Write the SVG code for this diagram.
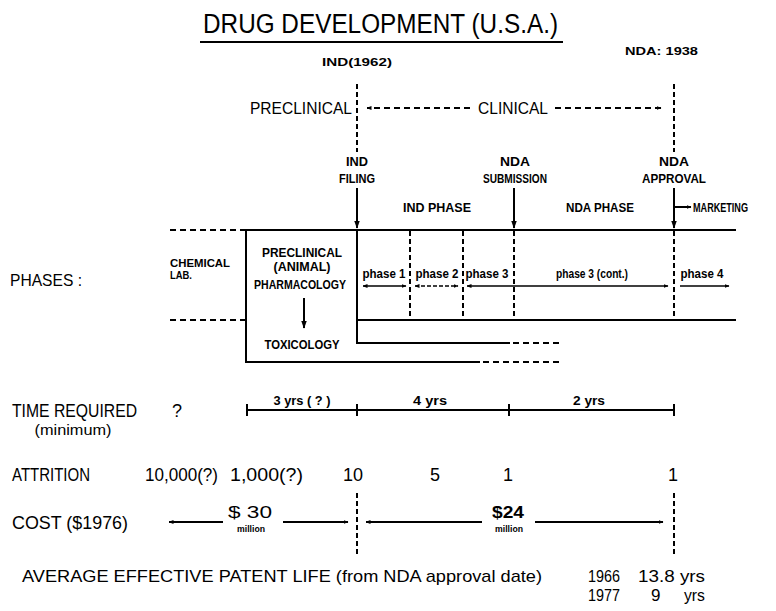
<svg xmlns="http://www.w3.org/2000/svg" width="776" height="611" viewBox="0 0 776 611">
<style>
.lt{font-family:"Liberation Sans",Arial,sans-serif;fill:#000}
.bd{font-family:"Liberation Sans",Arial,sans-serif;font-weight:bold;fill:#000}
.ln{stroke:#000;stroke-width:2;fill:none}
.tn{stroke:#000;stroke-width:1.5;fill:none}
.ds{stroke:#000;stroke-width:2;fill:none;stroke-dasharray:6 4}
.dv{stroke:#000;stroke-width:2;fill:none;stroke-dasharray:5 3}
</style>
<defs>
<marker id="ah" viewBox="0 0 10 10" refX="9" refY="5" markerWidth="5" markerHeight="5" orient="auto-start-reverse" markerUnits="userSpaceOnUse">
<path d="M0,1 L10,5 L0,9 Z" fill="#000"/>
</marker>
<marker id="ahs" viewBox="0 0 10 10" refX="9" refY="5" markerWidth="8" markerHeight="8" orient="auto-start-reverse" markerUnits="userSpaceOnUse">
<path d="M0,1.5 L10,5 L0,8.5 Z" fill="#000"/>
</marker>
</defs>
<rect width="776" height="611" fill="#fff"/>

<g id="title">
<text class="lt" x="203" y="33" font-size="27" textLength="355" lengthAdjust="spacingAndGlyphs">DRUG DEVELOPMENT (U.S.A.)</text>
<line class="ln" x1="200" y1="42" x2="563" y2="42"/>
</g>

<g id="ind-1962">
<text class="bd" x="357" y="66" font-size="11" text-anchor="middle" textLength="70" lengthAdjust="spacingAndGlyphs">IND(1962)</text>
</g>
<g id="nda-1938">
<text class="bd" x="625" y="55" font-size="11" textLength="73" lengthAdjust="spacingAndGlyphs">NDA: 1938</text>
</g>

<g id="preclinical-label">
<text class="lt" x="250" y="114" font-size="16" textLength="102" lengthAdjust="spacingAndGlyphs">PRECLINICAL</text>
</g>
<g id="clinical-label">
<text class="lt" x="478" y="114" font-size="16" textLength="70" lengthAdjust="spacingAndGlyphs">CLINICAL</text>
</g>

<g id="ind-filing">
<text class="bd" x="357" y="166" font-size="12" text-anchor="middle" textLength="22" lengthAdjust="spacingAndGlyphs">IND</text>
<text class="bd" x="357" y="183" font-size="12" text-anchor="middle" textLength="36" lengthAdjust="spacingAndGlyphs">FILING</text>
</g>
<g id="nda-submission">
<text class="bd" x="515" y="166" font-size="12" text-anchor="middle" textLength="30" lengthAdjust="spacingAndGlyphs">NDA</text>
<text class="bd" x="515" y="183" font-size="12" text-anchor="middle" textLength="64" lengthAdjust="spacingAndGlyphs">SUBMISSION</text>
</g>
<g id="nda-approval">
<text class="bd" x="674" y="166" font-size="12" text-anchor="middle" textLength="30" lengthAdjust="spacingAndGlyphs">NDA</text>
<text class="bd" x="674" y="183" font-size="12" text-anchor="middle" textLength="64" lengthAdjust="spacingAndGlyphs">APPROVAL</text>
</g>
<g id="ind-phase">
<text class="bd" x="437" y="212" font-size="12" text-anchor="middle" textLength="68" lengthAdjust="spacingAndGlyphs">IND PHASE</text>
</g>
<g id="nda-phase">
<text class="bd" x="600" y="212" font-size="12" text-anchor="middle" textLength="68" lengthAdjust="spacingAndGlyphs">NDA  PHASE</text>
</g>
<g id="marketing">
<text class="bd" x="693" y="212" font-size="13" textLength="55" lengthAdjust="spacingAndGlyphs">MARKETING</text>
</g>

<g id="phases-label">
<text class="lt" x="10" y="286" font-size="17" textLength="72" lengthAdjust="spacingAndGlyphs">PHASES :</text>
</g>
<g id="chemical-lab">
<text class="bd" x="170" y="267" font-size="11" textLength="60" lengthAdjust="spacingAndGlyphs">CHEMICAL</text>
<text class="bd" x="170" y="279" font-size="11" textLength="22" lengthAdjust="spacingAndGlyphs">LAB.</text>
</g>
<g id="preclinical-pharmacology">
<text class="bd" x="302" y="257" font-size="12" text-anchor="middle" textLength="80" lengthAdjust="spacingAndGlyphs">PRECLINICAL</text>
<text class="bd" x="302" y="271" font-size="12" text-anchor="middle" textLength="57" lengthAdjust="spacingAndGlyphs">(ANIMAL)</text>
<text class="bd" x="300" y="289" font-size="12" text-anchor="middle" textLength="92" lengthAdjust="spacingAndGlyphs">PHARMACOLOGY</text>
</g>
<g id="toxicology">
<text class="bd" x="302" y="349" font-size="12" text-anchor="middle" textLength="75" lengthAdjust="spacingAndGlyphs">TOXICOLOGY</text>
</g>
<g id="phase-1"><text class="bd" x="384" y="278" font-size="12" text-anchor="middle" textLength="43" lengthAdjust="spacingAndGlyphs">phase 1</text></g>
<g id="phase-2"><text class="bd" x="437" y="278" font-size="12" text-anchor="middle" textLength="43" lengthAdjust="spacingAndGlyphs">phase 2</text></g>
<g id="phase-3"><text class="bd" x="487" y="278" font-size="12" text-anchor="middle" textLength="43" lengthAdjust="spacingAndGlyphs">phase 3</text></g>
<g id="phase-3-cont"><text class="bd" x="592" y="278" font-size="12" text-anchor="middle" textLength="72" lengthAdjust="spacingAndGlyphs">phase 3 (cont.)</text></g>
<g id="phase-4"><text class="bd" x="702" y="278" font-size="12" text-anchor="middle" textLength="43" lengthAdjust="spacingAndGlyphs">phase 4</text></g>

<g id="time-required">
<text class="lt" x="12" y="417" font-size="18" textLength="125" lengthAdjust="spacingAndGlyphs">TIME REQUIRED</text>
<text class="lt" x="73" y="435" font-size="14" text-anchor="middle" textLength="77" lengthAdjust="spacingAndGlyphs">(minimum)</text>
<text class="lt" x="177" y="417" font-size="18" text-anchor="middle">?</text>
<text class="bd" x="302" y="405" font-size="12" text-anchor="middle" textLength="57" lengthAdjust="spacingAndGlyphs">3 yrs ( ? )</text>
<text class="bd" x="430" y="405" font-size="12" text-anchor="middle" textLength="34" lengthAdjust="spacingAndGlyphs">4 yrs</text>
<text class="bd" x="589" y="405" font-size="12" text-anchor="middle" textLength="32" lengthAdjust="spacingAndGlyphs">2 yrs</text>
</g>

<g id="attrition">
<text class="lt" x="12" y="481" font-size="18" textLength="78" lengthAdjust="spacingAndGlyphs">ATTRITION</text>
<text class="lt" x="145" y="481" font-size="18" textLength="73" lengthAdjust="spacingAndGlyphs">10,000(?)</text>
<text class="lt" x="230" y="481" font-size="18" textLength="73" lengthAdjust="spacingAndGlyphs">1,000(?)</text>
<text class="lt" x="353" y="481" font-size="18" text-anchor="middle">10</text>
<text class="lt" x="435" y="481" font-size="18" text-anchor="middle">5</text>
<text class="lt" x="508" y="481" font-size="18" text-anchor="middle">1</text>
<text class="lt" x="673" y="481" font-size="18" text-anchor="middle">1</text>
</g>

<g id="cost">
<text class="lt" x="12" y="529" font-size="18" textLength="116" lengthAdjust="spacingAndGlyphs">COST ($1976)</text>
<text class="lt" x="250" y="518" font-size="16" text-anchor="middle" textLength="44" lengthAdjust="spacingAndGlyphs">$ 30</text>
<text class="bd" x="251" y="532" font-size="9" text-anchor="middle" textLength="28" lengthAdjust="spacingAndGlyphs">million</text>
<text class="bd" x="508" y="518" font-size="16" text-anchor="middle" textLength="32" lengthAdjust="spacingAndGlyphs">$24</text>
<text class="bd" x="509" y="532" font-size="9" text-anchor="middle" textLength="28" lengthAdjust="spacingAndGlyphs">million</text>
</g>

<g id="patent-life">
<text class="lt" x="22" y="582" font-size="17" textLength="520" lengthAdjust="spacingAndGlyphs">AVERAGE  EFFECTIVE  PATENT  LIFE  (from  NDA  approval  date)</text>
<text class="lt" x="588" y="582" font-size="17" textLength="32" lengthAdjust="spacingAndGlyphs">1966</text>
<text class="lt" x="638" y="582" font-size="17" textLength="67" lengthAdjust="spacingAndGlyphs">13.8 yrs</text>
<text class="lt" x="588" y="601" font-size="17" textLength="32" lengthAdjust="spacingAndGlyphs">1977</text>
<text class="lt" x="651" y="601" font-size="17">9</text>
<text class="lt" x="684" y="601" font-size="17" textLength="21" lengthAdjust="spacingAndGlyphs">yrs</text>
</g>

<g id="connectors">
<line class="dv" x1="357" y1="84" x2="357" y2="152"/>
<line class="dv" x1="674" y1="84" x2="674" y2="152"/>
<line class="ds" x1="470" y1="108" x2="367" y2="108" marker-end="url(#ah)"/>
<line class="ds" x1="555" y1="108" x2="661" y2="108" marker-end="url(#ah)"/>
<line class="ln" x1="357" y1="188" x2="357" y2="228" marker-end="url(#ahs)"/>
<line class="ln" x1="514" y1="188" x2="514" y2="228" marker-end="url(#ahs)"/>
<line class="ln" x1="674" y1="188" x2="674" y2="228" marker-end="url(#ahs)"/>
<line class="ln" x1="674" y1="207" x2="691" y2="207" marker-end="url(#ah)"/>

<line class="ds" x1="170" y1="230" x2="246" y2="230"/>
<line class="ds" x1="170" y1="320" x2="246" y2="320"/>
<line class="ln" x1="246" y1="230" x2="736" y2="230"/>
<line class="ln" x1="246" y1="229" x2="246" y2="362"/>
<line class="ln" x1="245" y1="362" x2="480" y2="362"/>
<line class="ds" x1="483" y1="362" x2="560" y2="362"/>
<line class="ln" x1="357" y1="230" x2="357" y2="343"/>
<line class="ln" x1="356" y1="343" x2="510" y2="343"/>
<line class="ds" x1="513" y1="343" x2="560" y2="343"/>
<line class="ln" x1="357" y1="320" x2="736" y2="320"/>
<line class="dv" x1="410" y1="231" x2="410" y2="320"/>
<line class="dv" x1="463" y1="231" x2="463" y2="320"/>
<line class="dv" x1="514" y1="231" x2="514" y2="320"/>
<line class="dv" x1="674" y1="231" x2="674" y2="320"/>
<line class="ln" x1="304" y1="298" x2="304" y2="328" marker-end="url(#ahs)"/>

<line class="tn" x1="363" y1="286" x2="406" y2="286" marker-start="url(#ah)" marker-end="url(#ah)"/>
<line class="tn" x1="415" y1="286" x2="458" y2="286" stroke-dasharray="4 2" marker-start="url(#ah)" marker-end="url(#ah)"/>
<line class="tn" x1="467" y1="286" x2="668" y2="286" marker-start="url(#ah)" marker-end="url(#ah)"/>
<line class="tn" x1="680" y1="286" x2="729" y2="286" marker-end="url(#ah)"/>

<line class="ln" x1="247" y1="410" x2="674" y2="410"/>
<line class="ln" x1="247" y1="404" x2="247" y2="416"/>
<line class="ln" x1="357" y1="404" x2="357" y2="416"/>
<line class="ln" x1="509" y1="404" x2="509" y2="416"/>
<line class="ln" x1="674" y1="404" x2="674" y2="416"/>

<line class="dv" x1="357" y1="493" x2="357" y2="555"/>
<line class="dv" x1="674" y1="493" x2="674" y2="555"/>
<line class="ln" x1="223" y1="522" x2="169" y2="522" marker-end="url(#ah)"/>
<line class="ln" x1="283" y1="522" x2="348" y2="522" marker-end="url(#ah)"/>
<line class="ln" x1="482" y1="522" x2="366" y2="522" marker-end="url(#ah)"/>
<line class="ln" x1="535" y1="522" x2="663" y2="522" marker-end="url(#ah)"/>
</g>
</svg>
